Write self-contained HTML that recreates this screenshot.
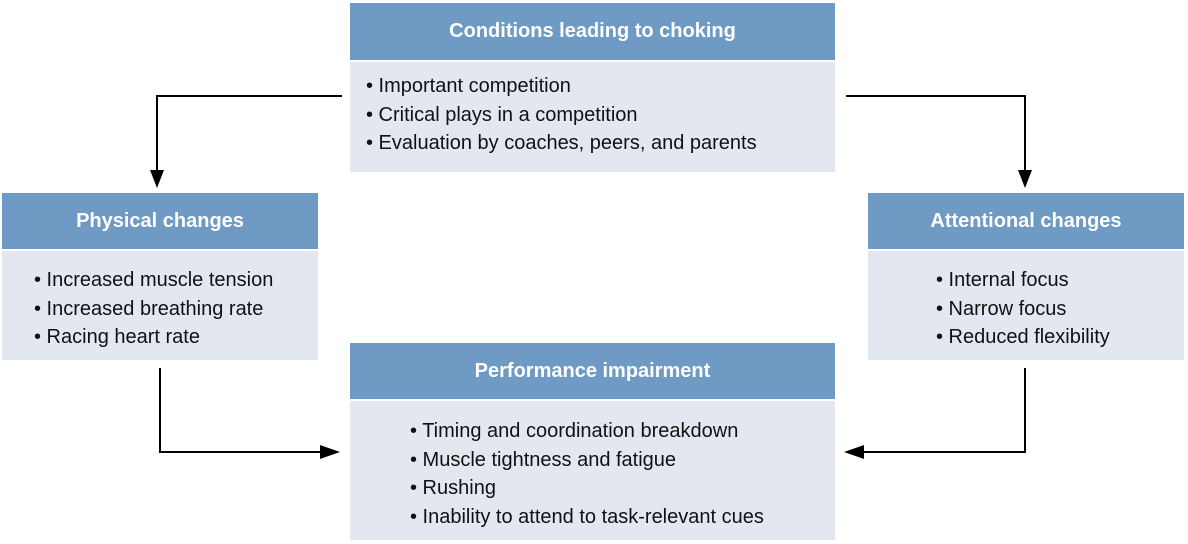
<!DOCTYPE html>
<html><head><style>
body{margin:0;width:1188px;height:544px;background:#fff;position:relative;font-family:"Liberation Sans",Arial,sans-serif;overflow:hidden}
.h{position:absolute;background:#6e9ac4;color:#fff;font-weight:bold;font-size:20px;display:flex;align-items:center;justify-content:center}
.b{position:absolute;background:#e3e7f0;color:#111;font-size:20px;line-height:28.5px;box-sizing:border-box;white-space:nowrap}
svg{position:absolute;left:0;top:0}
</style></head><body>
<div class="h" style="left:350px;top:3px;width:485px;height:57px">Conditions leading to choking</div>
<div class="b" style="left:350px;top:62px;width:485px;height:110px;padding:10px 0 0 16px">• Important competition<br>• Critical plays in a competition<br>• Evaluation by coaches, peers, and parents</div>

<div class="h" style="left:2px;top:193px;width:316px;height:56px">Physical changes</div>
<div class="b" style="left:2px;top:251px;width:316px;height:109px;padding:15px 0 0 32px">• Increased muscle tension<br>• Increased breathing rate<br>• Racing heart rate</div>

<div class="h" style="left:868px;top:193px;width:316px;height:56px">Attentional changes</div>
<div class="b" style="left:868px;top:251px;width:316px;height:109px;padding:15px 0 0 68px">• Internal focus<br>• Narrow focus<br>• Reduced flexibility</div>

<div class="h" style="left:350px;top:343px;width:485px;height:56px">Performance impairment</div>
<div class="b" style="left:350px;top:401px;width:485px;height:139px;padding:16px 0 0 60px">• Timing and coordination breakdown<br>• Muscle tightness and fatigue<br>• Rushing<br>• Inability to attend to task-relevant cues</div>

<svg width="1188" height="544">
<g stroke="#000" stroke-width="2" fill="none">
<polyline points="342,96 157,96 157,172"/>
<polyline points="846,96 1025,96 1025,172"/>
<polyline points="160,368 160,452 322,452"/>
<polyline points="1025,368 1025,452 862,452"/>
</g>
<g fill="#000">
<polygon points="150,170 164,170 157,188"/>
<polygon points="1018,170 1032,170 1025,188"/>
<polygon points="320,445 320,459 340,452"/>
<polygon points="864,445 864,459 844,452"/>
</g>
</svg>
</body></html>
